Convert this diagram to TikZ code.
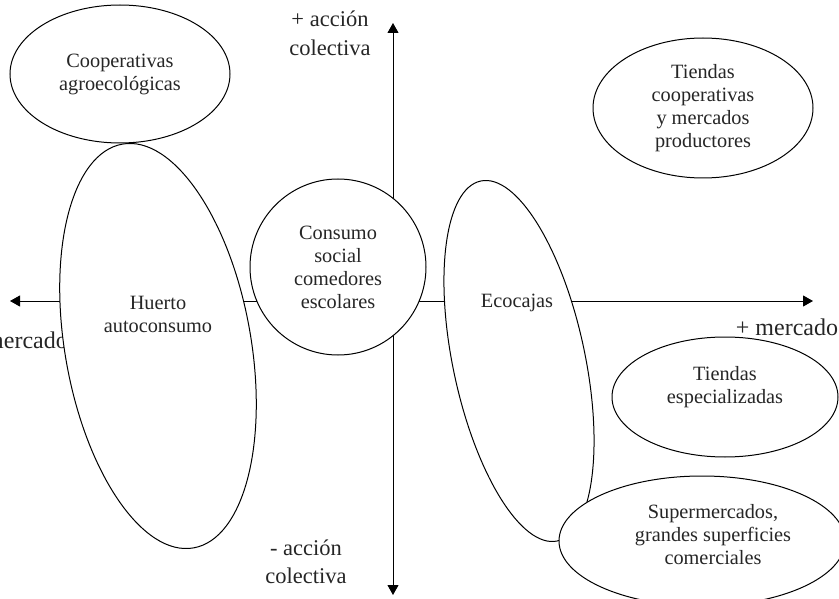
\documentclass[tikz,border=0pt]{standalone}
\usepackage{fontspec}
\setmainfont{Liberation Serif}
\usetikzlibrary{shapes.geometric,arrows.meta}

\begin{document}
\begin{tikzpicture}[x=1pt, y=-1pt,
        every node/.style={text=black!85, font=\fontsize{20.3}{23}\selectfont},
        lbl/.style={align=center, inner sep=0pt},
        axlbl/.style={lbl, font=\fontsize{22.5}{24}\selectfont},
        oval/.style={draw, ellipse, fill=white, line width=1pt, inner sep=0pt, align=center},
        axis/.style={line width=1pt,
            {Triangle[length=10pt,width=11pt]}-{Triangle[length=10pt,width=11pt]}}]
        \useasboundingbox (0,0) rectangle (839,599);
        \clip (0,0) rectangle (839,599);

        % axes
        \coordinate (xmin) at (10,301);
        \coordinate (xmax) at (813,301);
        \coordinate (ymax) at (393,23);
        \coordinate (ymin) at (393,595);
        \draw[axis] (xmin) -- (xmax);
        \draw[axis] (ymax) -- (ymin);

        \node[axlbl] (colmas)  at (330,33)  {+ acción\\[5pt]colectiva};
        \node[axlbl] (colmenos) at (306,562) {- acción\\[4pt]colectiva};
        \node[axlbl, font=\fontsize{24}{26}\selectfont] (mercmas) at (787,327) {+ mercado};
        \node[axlbl, font=\fontsize{24}{26}\selectfont, anchor=east] (mercmenos) at (68,340) {- mercado};

        % ovals
        \node[oval, minimum width=220pt, minimum height=138pt] (coop) at (120,74)
            {Cooperativas\\agroecológicas};
        \node[oval, minimum width=220pt, minimum height=140pt] (tcoop) at (703,108)
            {Tiendas\\cooperativas\\y mercados\\productores};
        \node[oval, circle, minimum size=176pt] (consumo) at (338,267)
            {Consumo\\social\\comedores\\escolares};

        \node[oval, minimum width=186pt, minimum height=410pt, rotate=10] (huerto) at (158,346) {};
        \node[lbl] (huertotxt) at (158,314) {Huerto\\autoconsumo};

        \node[oval, minimum width=132pt, minimum height=368pt, rotate=12] (eco) at (519,361) {};
        \node[lbl] (ecotxt) at (517,303) {Ecocajas};

        \node[oval, minimum width=226pt, minimum height=120pt] (tesp) at (725,397) {};
        \node[lbl] (tesptxt) at (725,387) {Tiendas\\especializadas};

        \node[oval, minimum width=286pt, minimum height=130pt] (super) at (702,541) {};
        \node[lbl] (supertxt) at (713,535) {Supermercados,\\grandes superficies\\comerciales};
\end{tikzpicture}
\end{document}
